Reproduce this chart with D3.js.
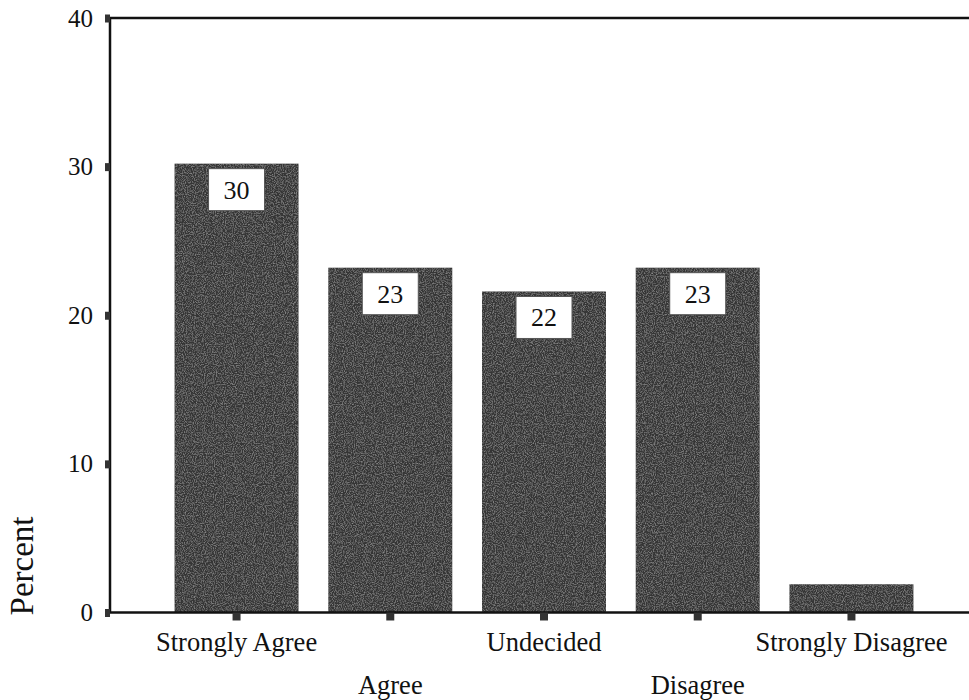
<!DOCTYPE html>
<html><head><meta charset="utf-8">
<script src="https://cdn.jsdelivr.net/npm/d3@7"></script>
<style>body{margin:0;background:#fff}svg{display:block}</style>
</head><body>
<svg id="c" width="969" height="700"></svg>
<script>
const categories = ["Strongly Agree","Agree","Undecided","Disagree","Strongly Disagree"];
const values = [30.2, 23.2, 21.6, 23.2, 1.9];
const valueLabels = ["30","23","22","23",""];
const yTicks = [0,10,20,30,40];

const svg = d3.select("#c");
const font = "'Liberation Serif','Times New Roman',serif";
const x = d3.scaleBand().domain(categories).range([110, 978]).paddingInner(0.1935).paddingOuter(0.42);
const y = d3.scaleLinear().domain([0,40]).range([612.5, 18]);

// subtle texture for bars
const defs = svg.append("defs");
const f = defs.append("filter").attr("id","noise").attr("x",0).attr("y",0).attr("width","100%").attr("height","100%");
f.append("feTurbulence").attr("type","fractalNoise").attr("baseFrequency",0.9).attr("numOctaves",2).attr("seed",3).attr("result","n");
f.append("feColorMatrix").attr("in","n").attr("type","matrix")
 .attr("values","0 0 0 0 0.55  0 0 0 0 0.55  0 0 0 0 0.55  0.9 0 0 0 -0.38").attr("result","m");
f.append("feComposite").attr("in","m").attr("in2","SourceGraphic").attr("operator","in").attr("result","c");
f.append("feMerge").call(g=>{g.append("feMergeNode").attr("in","SourceGraphic");g.append("feMergeNode").attr("in","c");});

// bars
svg.append("g").selectAll("rect").data(values).join("rect")
  .attr("x",(d,i)=>x(categories[i]))
  .attr("y",d=>y(d))
  .attr("width",x.bandwidth())
  .attr("height",d=>y(0)-y(d))
  .attr("fill","#363636")
  .attr("filter","url(#noise)");

// value label boxes
const lab = svg.append("g").selectAll("g").data(values.map((v,i)=>({v,i,t:valueLabels[i]})).filter(d=>d.t!==""))
  .join("g").attr("transform",d=>`translate(${x(categories[d.i])+x.bandwidth()/2},${y(d.v)+5})`);
lab.append("rect").attr("x",-28).attr("y",0).attr("width",56).attr("height",42)
  .attr("fill","#fff").attr("stroke","#555").attr("stroke-width",1);
lab.append("text").attr("x",0).attr("y",30).attr("text-anchor","middle")
  .attr("font-family",font).attr("font-size",26).attr("fill","#111").text(d=>d.t);

// frame lines
svg.append("line").attr("x1",110).attr("x2",969).attr("y1",y(40)).attr("y2",y(40)).attr("stroke","#111").attr("stroke-width",2.5);
svg.append("line").attr("x1",110).attr("x2",969).attr("y1",y(0)).attr("y2",y(0)).attr("stroke","#111").attr("stroke-width",2.5);

// y axis
const ya = svg.append("g").attr("transform","translate(110,0)")
  .call(d3.axisLeft(y).tickValues(yTicks).tickSize(5).tickPadding(12).tickFormat(d3.format("d")));
ya.select(".domain").attr("stroke","#111").attr("stroke-width",2.5).attr("d",`M0,${y(40)}V${y(0)}`);
ya.selectAll(".tick line").attr("stroke","#333").attr("stroke-width",8);
ya.selectAll(".tick text").attr("font-family",font).attr("font-size",25).attr("fill","#111");

// x axis
const xa = svg.append("g").attr("transform",`translate(0,${y(0)})`)
  .call(d3.axisBottom(x).tickSize(8).tickPadding(0));
xa.select(".domain").remove();
xa.selectAll(".tick line").attr("stroke","#333").attr("stroke-width",8);
xa.selectAll(".tick text").attr("font-family",font).attr("font-size",26.5).attr("fill","#111")
  .attr("dy",null).attr("y",(d,i)=> i%2===0 ? 38 : 81);

// y title
svg.append("text").attr("transform","translate(33,566) rotate(-90)").attr("text-anchor","middle")
  .attr("font-family",font).attr("font-size",33).attr("fill","#111").text("Percent");
</script>
</body></html>
